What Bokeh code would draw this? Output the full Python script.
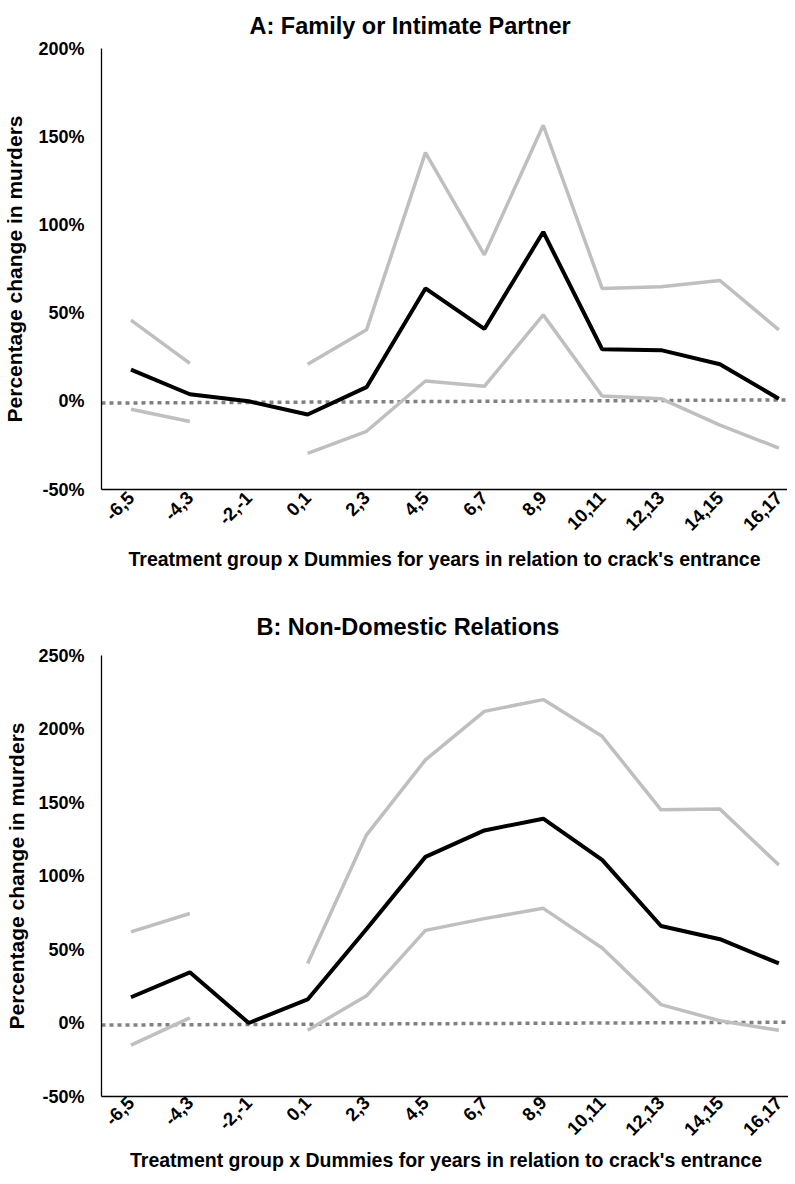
import math
from bokeh.plotting import figure
from bokeh.layouts import column
from bokeh.models import FixedTicker, PrintfTickFormatter, Range1d, Title
from bokeh.embed import file_html
from bokeh.resources import INLINE

nan = float("nan")

# ---- data ----
periods = ["-6,5", "-4,3", "-2,-1", "0,1", "2,3", "4,5", "6,7", "8,9",
           "10,11", "12,13", "14,15", "16,17"]

# Panel A: Family or Intimate Partner (percent)
a_est = [18, 4, 0, -7.5, 8, 64, 41, 96, 29.5, 29, 21, 1.5]
a_upper = [46, 21.5, nan, 21, 40.5, 141, 83, 156.5, 64, 65, 68.5, 40.5]
a_lower = [-4.5, -11.5, nan, -29.5, -17, 11.5, 8.5, 49, 3, 1.5, -13.5, -26.5]
a_ref = [-1.0, 0.8]

# Panel B: Non-Domestic Relations (percent)
b_est = [17.5, 34.5, 0, 16, 64, 113, 131, 139, 111, 66, 57, 40.5]
b_upper = [62, 74.5, nan, 40.5, 128, 179, 212, 220, 195, 145, 145.5, 107.5]
b_lower = [-15, 3.5, nan, -5, 18.5, 63, 71, 78, 51, 12.5, 1.5, -5]
b_ref = [-1.4, 0.5]

a_ticks = [-50, 0, 50, 100, 150, 200]
b_ticks = [-50, 0, 50, 100, 150, 200, 250]

FONT = "Liberation Sans"
xs = list(range(len(periods)))


def make_panel(title, est, upper, lower, ref, yticks, frame_w, border_left,
               border_top, border_bottom, ylab_standoff,
               title_offset, title_standoff, xlab_standoff, xtick_standoff):
    x_end = -0.5 + frame_w / 58.9
    p = figure(frame_width=frame_w, frame_height=441, output_backend="svg",
               toolbar_location=None,
               x_range=Range1d(-0.5, x_end),
               y_range=Range1d(yticks[0], yticks[-1]),
               min_border_left=border_left, min_border_right=0,
               min_border_top=border_top, min_border_bottom=border_bottom)
    p.outline_line_color = None
    p.grid.grid_line_color = None

    xa = p.below[0]
    ya = p.left[0]

    p.add_layout(Title(text=title, align="left", offset=title_offset,
                       text_font=FONT, text_font_size="23.5px",
                       text_font_style="bold", text_color="black",
                       standoff=title_standoff), "above")

    # reference dotted line
    p.line([-0.5, x_end], ref, line_color="#808080", line_width=3.5,
           line_dash="4 4")
    p.line(xs, upper, line_color="#bfbfbf", line_width=3.5)
    p.line(xs, lower, line_color="#bfbfbf", line_width=3.5)
    p.line(xs, est, line_color="black", line_width=4)

    xa.ticker = FixedTicker(ticks=xs)
    xa.major_label_overrides = {i: s for i, s in enumerate(periods)}
    xa.major_label_orientation = math.pi / 4
    xa.axis_label = "Treatment group x Dummies for years in relation to crack's entrance"

    ya.ticker = FixedTicker(ticks=yticks)
    ya.formatter = PrintfTickFormatter(format="%d%%")
    ya.axis_label = "Percentage change in murders"

    for ax in (xa, ya):
        ax.axis_line_color = "black"
        ax.axis_line_width = 1.3
        ax.major_tick_line_color = None
        ax.minor_tick_line_color = None
        ax.major_tick_out = 0
        ax.major_tick_in = 0
        ax.minor_tick_out = 0
        ax.minor_tick_in = 0
        ax.major_label_text_font = FONT
        ax.major_label_text_font_size = "18px"
        ax.major_label_text_font_style = "bold"
        ax.major_label_text_color = "black"
        ax.axis_label_text_font = FONT
        ax.axis_label_text_font_style = "bold"
        ax.axis_label_text_color = "black"
    xa.major_label_text_font_size = "18.5px"
    xa.axis_label_text_font_size = "19.5px"
    ya.axis_label_text_font_size = "21px"
    xa.major_label_standoff = xtick_standoff
    ya.major_label_standoff = 17
    xa.axis_label_standoff = xlab_standoff
    ya.axis_label_standoff = ylab_standoff
    return p


pa = make_panel("A: Family or Intimate Partner", a_est, a_upper, a_lower, a_ref,
                a_ticks, 686, 93, 43, 106, 9, 148, 20, 9, 5)
pb = make_panel("B: Non-Domestic Relations", b_est, b_upper, b_lower, b_ref,
                b_ticks, 689, 90, 53, 80, 7, 155, 32, 5, 3)

layout = column(pa, pb, spacing=0)
open("out.html", "w").write(file_html(layout, INLINE))
